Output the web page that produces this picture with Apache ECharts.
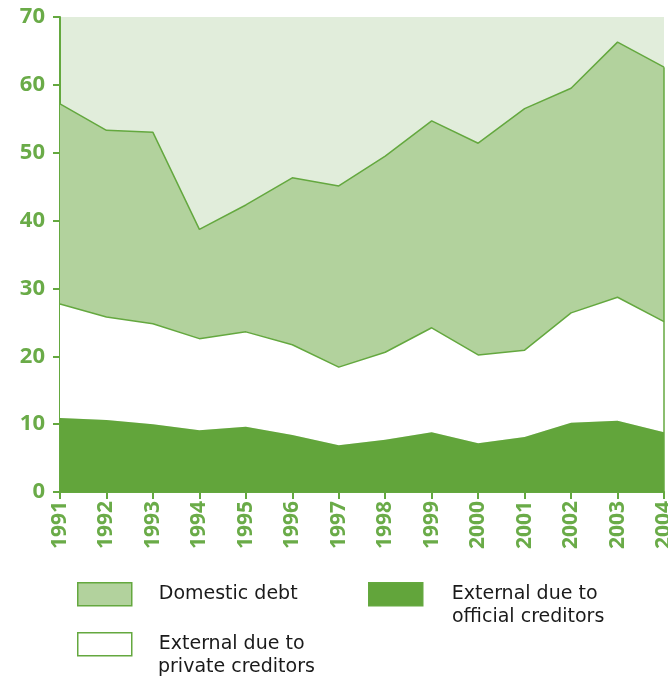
<!DOCTYPE html>
<html>
<head>
<meta charset="utf-8">
<script src="https://cdn.jsdelivr.net/npm/echarts@6/dist/echarts.min.js"></script>
<style>
  html, body { margin: 0; padding: 0; background: #fff; }
  #main { width: 668px; height: 679px; }
</style>
</head>
<body>
<div id="main"></div>
<script>
// years on the x axis
var years = ['1991', '1992', '1993', '1994', '1995', '1996', '1997',
  '1998', '1999', '2000', '2001', '2002', '2003', '2004']
// external debt due to official creditors (bottom layer)
var officialDebt = [10.9, 10.6, 10.0, 9.1, 9.6, 8.4, 6.9, 7.7, 8.8, 7.2, 8.1, 10.2, 10.5, 8.8]
// external debt due to private creditors (middle layer)
var privateDebt = [16.8, 15.2, 14.8, 13.5, 14.0, 13.3, 11.5, 12.9, 15.4, 13.0, 12.8, 16.2, 18.2, 16.3]
// domestic debt (top layer)
var domesticDebt = [29.5, 27.5, 28.2, 16.1, 18.7, 24.6, 26.7, 28.9, 30.5, 31.2, 35.6, 33.1, 37.6, 37.5]
var yTicks = [0, 10, 20, 30, 40, 50, 60, 70]

var green = '#64a83f'
var labelGreen = '#6aab48'
var total = officialDebt[13] + privateDebt[13] + domesticDebt[13]

var legendFont = 'DejaVu Sans'
var legendSize = 19

function legendBox (left, top, name, label, gap) {
  return {
    left: left,
    top: top,
    padding: 0,
    icon: 'rect',
    itemWidth: 54,
    itemHeight: 23,
    itemStyle: { borderColor: green, borderWidth: 1.5 },
    textStyle: { fontFamily: legendFont, fontSize: legendSize, color: '#1a1a1a', padding: [0, 0, 0, gap] },
    formatter: function () { return label },
    data: [name]
  }
}

var myChart = echarts.init(document.getElementById('main'))
myChart.setOption({
  animation: false,
  grid: {
    left: 60,
    right: 4,
    top: 17,
    bottom: 187,
    outerBoundsMode: 'none',
    show: true,
    backgroundColor: '#e1eddb',
    borderWidth: 0
  },
  legend: [
    legendBox(77, 582, 'Domestic debt', 'Domestic debt', 22),
    legendBox(77, 632, 'External due to private creditors', 'External due to', 22),
    legendBox(368, 582, 'External due to official creditors', 'External due to', 24)
  ],
  // second lines of the two-line legend labels
  graphic: [{
    type: 'text',
    left: 158,
    top: 658,
    style: { text: 'private creditors', font: legendSize + 'px "DejaVu Sans"', fill: '#1a1a1a' }
  }, {
    type: 'text',
    left: 452,
    top: 608,
    style: { text: 'official creditors', font: legendSize + 'px "DejaVu Sans"', fill: '#1a1a1a' }
  }],
  xAxis: {
    type: 'category',
    boundaryGap: false,
    data: years,
    axisLine: { show: true, lineStyle: { color: green, width: 2 } },
    axisTick: { show: true, length: 7, lineStyle: { color: green, width: 2 } },
    axisLabel: {
      rotate: 90,
      margin: 9,
      color: labelGreen,
      fontFamily: 'Open Sans',
      fontWeight: 'bold',
      fontSize: 21
    },
    splitLine: { show: false }
  },
  yAxis: {
    type: 'value',
    min: yTicks[0],
    max: yTicks[yTicks.length - 1],
    interval: 10,
    axisLine: { show: true, lineStyle: { color: green, width: 2 } },
    axisTick: { show: true, length: 7, lineStyle: { color: green, width: 2 } },
    axisLabel: {
      margin: 15,
      color: labelGreen,
      fontFamily: 'Open Sans',
      fontWeight: 'bold',
      fontSize: 22
    },
    splitLine: { show: false }
  },
  series: [{
    name: 'External due to official creditors',
    type: 'line',
    stack: 'debt',
    symbol: 'none',
    data: officialDebt,
    itemStyle: { color: '#62a53b' },
    lineStyle: { width: 0 },
    areaStyle: { color: '#62a53b', opacity: 1 },
    z: 3
  }, {
    name: 'External due to private creditors',
    type: 'line',
    stack: 'debt',
    symbol: 'none',
    data: privateDebt,
    itemStyle: { color: '#ffffff' },
    lineStyle: { color: green, width: 1.5 },
    areaStyle: { color: '#ffffff', opacity: 1 },
    z: 2
  }, {
    name: 'Domestic debt',
    type: 'line',
    stack: 'debt',
    symbol: 'none',
    data: domesticDebt,
    itemStyle: { color: '#b2d29d' },
    lineStyle: { color: green, width: 1.5 },
    areaStyle: { color: '#b2d29d', opacity: 1 },
    markLine: {
      silent: true,
      symbol: 'none',
      label: { show: false },
      lineStyle: { color: green, width: 1.5, type: 'solid' },
      data: [[{ coord: ['2004', 0] }, { coord: ['2004', total] }]]
    },
    z: 1
  }]
})
</script>
</body>
</html>
